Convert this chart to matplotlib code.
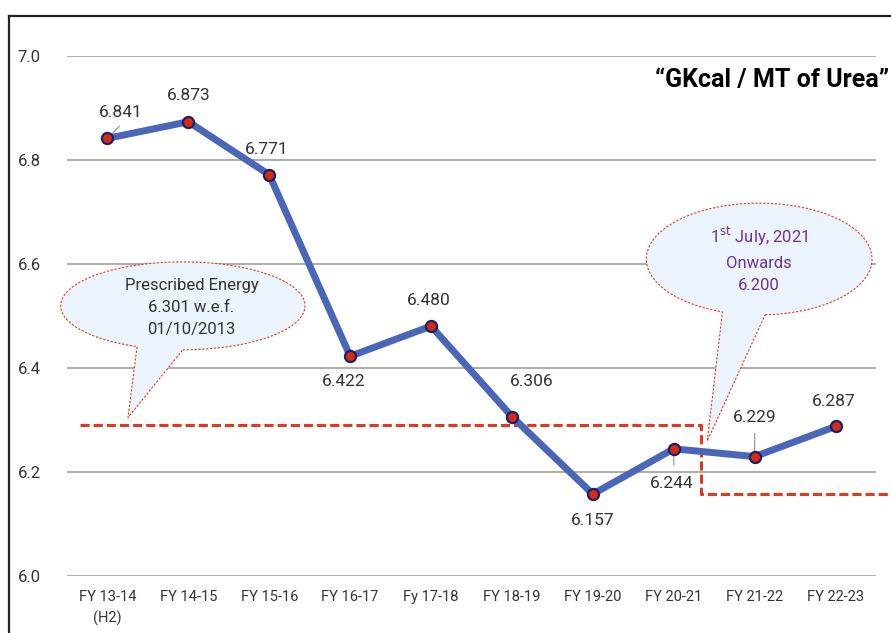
import numpy as np
import matplotlib
matplotlib.use("Agg")
import matplotlib.pyplot as plt
from matplotlib.lines import Line2D
from matplotlib.patches import Polygon

plt.rcParams['font.family'] = ['Roboto', 'DejaVu Sans']

# data
years = ["FY 13-14\n(H2)", "FY 14-15", "FY 15-16", "FY 16-17", "Fy 17-18",
         "FY 18-19", "FY 19-20", "FY 20-21", "FY 21-22", "FY 22-23"]
energy = [6.841, 6.873, 6.771, 6.422, 6.480, 6.306, 6.157, 6.244, 6.229, 6.287]
# label offsets (pixels) from each point
label_dx = [13, 0, -3, -6, -2, 20, 0, -2, 0, -2]
label_dy = [26, 26, 25, -25, 26, 35, -26, -35, 39, 25]
leader = [True, False, False, False, False, False, False, True, True, False]

# prescribed energy levels as drawn
old_norm = 6.29
new_norm = 6.157
switch_x = 7.34

fig = plt.figure(figsize=(8.91, 6.33), dpi=100)
ax = fig.add_axes([67 / 891, 1 - 575.7 / 633, (876 - 67) / 891, (575.7 - 55.7) / 633])

x = np.arange(len(years))
ax.set_xlim(-0.5, len(years) - 0.5)
ax.set_ylim(6.0, 7.0)
ax.set_yticks(np.arange(6.0, 7.01, 0.2))
ax.set_yticklabels([f"{v:.1f}" for v in np.arange(6.0, 7.01, 0.2)])
ax.set_xticks(x)
ax.set_xticklabels(years, fontsize=10.5, color='#333333', linespacing=1.6)
ax.tick_params(axis='y', length=0, pad=19, labelsize=12, labelcolor='#333333')
ax.tick_params(axis='x', length=0, pad=10)
for s in ax.spines.values():
    s.set_visible(False)
ax.grid(axis='y', color='#a6a6a6', linewidth=1.3)
ax.set_axisbelow(True)

# prescribed energy dashed line
ax.plot([-0.34, switch_x, switch_x, 9.7], [old_norm, old_norm, new_norm, new_norm],
        color='#e03a1e', linewidth=2.2, dashes=(3, 1.3), clip_on=False, zorder=2)

# main line
ax.plot(x, energy, color='#4a66b8', linewidth=5, marker='o', markersize=8,
        markerfacecolor='#d92b0b', markeredgecolor='#1b1f6b', markeredgewidth=1.6,
        solid_capstyle='round', zorder=4)

for i, v in enumerate(energy):
    ax.annotate(f"{v:.3f}", (i, v), xytext=(label_dx[i], label_dy[i]),
                textcoords='offset pixels', ha='center', va='center',
                fontsize=12.5, color='#333333', zorder=5)
    if leader[i]:
        if i == 0:
            end = (14, 14)
        elif label_dy[i] < 0:
            end = (0, -19)
        else:
            end = (0, 26)
        ax.annotate("", (i, v), xytext=end, textcoords='offset pixels',
                    arrowprops=dict(arrowstyle='-', color='#9a9a9a', lw=0.9),
                    zorder=3)


def callout(cx, cy, w, h, a_start, a_end, tip):
    # ellipse outline from a_start going round to a_end, then the tail tip
    t = np.radians(np.linspace(a_start, a_end, 200))
    pts = np.column_stack([cx + w / 2 * np.cos(t), cy + h / 2 * np.sin(t)])
    pts = np.vstack([pts, tip])
    poly = Polygon(pts, closed=True, facecolor='#ebf4fc', edgecolor='#e03a1e',
                   linewidth=0.8, linestyle=(0, (2, 1.5)), zorder=6, clip_on=False)
    ax.add_patch(poly)


callout(0.932, 6.519, 3.02, 0.169, -90, 248, (0.253, 6.304))
ax.text(1.04, 6.516, "Prescribed Energy\n6.301 w.e.f.\n01/10/2013", ha='center',
        va='center', fontsize=12, color='#333333', linespacing=1.6, zorder=7)

callout(8.056, 6.609, 2.79, 0.215, -87, 251, (7.414, 6.259))
ax.text(8.056, 6.609, "1$^{\\mathrm{st}}$ July, 2021\nOnwards\n6.200", ha='center',
        va='center', fontsize=12, color='#7030a0', linespacing=1.65, zorder=7)

# title
fig.text(655 / 891, 1 - 87 / 633, "\u201cGKcal / MT of Urea\u201d", ha='left',
         va='baseline', fontsize=18, fontweight='bold', color='black')

# frame
fig.add_artist(Line2D([9 / 891, 9 / 891], [0, 1 - 16 / 633], color='#222222', linewidth=1.6))
fig.add_artist(Line2D([9 / 891, 1.0], [1 - 16 / 633, 1 - 16 / 633], color='#222222', linewidth=1.6))

fig.savefig("out.png", dpi=100)
